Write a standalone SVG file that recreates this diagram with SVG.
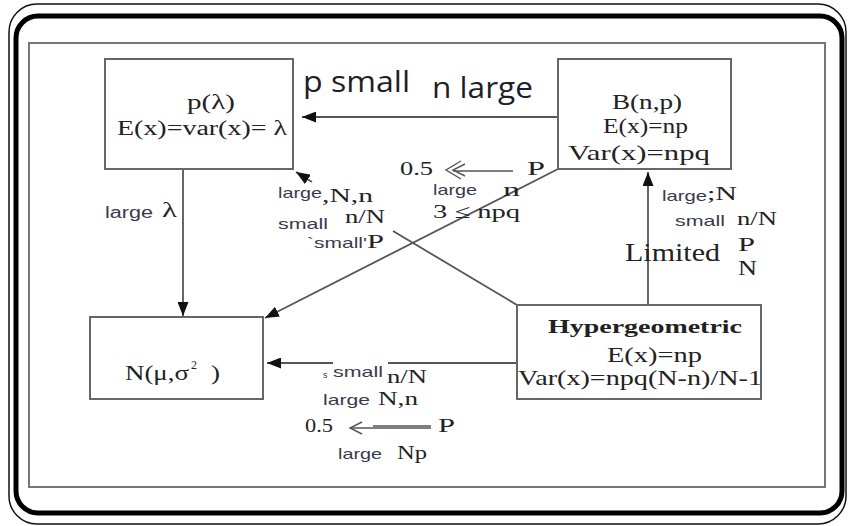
<svg xmlns="http://www.w3.org/2000/svg" width="848" height="526" viewBox="0 0 848 526">
<style>
.box{fill:#fff;stroke:#666;stroke-width:2}
.ln{fill:none;stroke:#555;stroke-width:1.8}
.thin{fill:none;stroke:#555;stroke-width:1.4}
.sr{font-family:"Liberation Serif","Times New Roman",serif;fill:#222}
.sn{font-family:"Liberation Sans",Arial,sans-serif;fill:#3a3a4c}
.big{font-family:"Open Sans","Liberation Sans",sans-serif;fill:#1e1e28}
</style>
<defs>
<marker id="ah" markerUnits="userSpaceOnUse" markerWidth="15" markerHeight="11" refX="14" refY="5.5" orient="auto">
<path d="M0,0 L14,5.5 L0,11 z" fill="#111"/>
</marker>
</defs>
<rect width="848" height="526" fill="#fff"/>
<g id="frame">
<rect x="9" y="4" width="837" height="520" rx="28" fill="none" stroke="#111" stroke-width="1.5"/>
<rect x="16" y="16" width="826" height="497" rx="22" fill="none" stroke="#000" stroke-width="5"/>
<rect x="29" y="43" width="796" height="444" fill="none" stroke="#777" stroke-width="2"/>
</g>
<g id="connectors">
<line class="ln" x1="558" y1="117" x2="302" y2="117" marker-end="url(#ah)"/>
<line class="ln" x1="183" y1="169" x2="183" y2="316" marker-end="url(#ah)"/>
<line class="ln" x1="558" y1="169" x2="265" y2="318" marker-end="url(#ah)"/>
<path class="ln" d="M517,305 L393,231 M312,182 L296,172" marker-end="url(#ah)"/>
<path class="ln" d="M517,363 L388,363 M333,363 L267,363" marker-end="url(#ah)"/>
<line class="ln" x1="648" y1="305" x2="648" y2="172" marker-end="url(#ah)"/>
</g>
<g id="node-poisson">
<rect class="box" x="105" y="59" width="188" height="110"/>
<text class="sr" x="187" y="109" font-size="22" textLength="48" lengthAdjust="spacingAndGlyphs">p(λ)</text>
<text class="sr" x="117" y="135" font-size="20" textLength="170" lengthAdjust="spacingAndGlyphs">E(x)=var(x)= λ</text>
</g>
<g id="node-binomial">
<rect class="box" x="558" y="59" width="173" height="110"/>
<text class="sr" x="612" y="109" font-size="21" textLength="70" lengthAdjust="spacingAndGlyphs">B(n,p)</text>
<text class="sr" x="603" y="133" font-size="21" textLength="85" lengthAdjust="spacingAndGlyphs">E(x)=np</text>
<text class="sr" x="568" y="160" font-size="21" textLength="142" lengthAdjust="spacingAndGlyphs">Var(x)=npq</text>
</g>
<g id="node-hypergeometric">
<rect class="box" x="517" y="305" width="244" height="94"/>
<text class="sr" x="548" y="333" font-size="18" font-weight="bold" fill="#1a1208" textLength="194" lengthAdjust="spacingAndGlyphs">Hypergeometric</text>
<text class="sr" x="607" y="362" font-size="21" textLength="95" lengthAdjust="spacingAndGlyphs">E(x)=np</text>
<text class="sr" x="518" y="385" font-size="21" textLength="244" lengthAdjust="spacingAndGlyphs">Var(x)=npq(N-n)/N-1</text>
</g>
<g id="node-normal">
<rect class="box" x="90" y="317" width="173" height="82"/>
<text class="sr" x="125" y="380" font-size="21" textLength="64" lengthAdjust="spacingAndGlyphs">N(μ,σ</text>
<text class="sr" x="191" y="369" font-size="12">2</text>
<text class="sr" x="211" y="380" font-size="21" textLength="9" lengthAdjust="spacingAndGlyphs">)</text>
</g>
<g id="labels">
<text class="big" x="303" y="92" font-size="29" textLength="107" lengthAdjust="spacingAndGlyphs">p small</text>
<text class="big" x="432" y="98" font-size="29" textLength="101" lengthAdjust="spacingAndGlyphs">n large</text>

<text class="sn" x="105" y="218" font-size="16" textLength="48" lengthAdjust="spacingAndGlyphs">large</text>
<text class="sr" x="162" y="217" font-size="20" textLength="15" lengthAdjust="spacingAndGlyphs">λ</text>

<text class="sn" x="278" y="198" font-size="15" textLength="44" lengthAdjust="spacingAndGlyphs">large</text>
<text class="sr" x="322" y="202" font-size="19" textLength="51" lengthAdjust="spacingAndGlyphs">,N,n</text>
<text class="sn" x="278" y="229" font-size="15" textLength="50" lengthAdjust="spacingAndGlyphs">small</text>
<text class="sr" x="345" y="223" font-size="19" textLength="40" lengthAdjust="spacingAndGlyphs">n/N</text>
<text class="sn" x="307" y="248" font-size="15" textLength="60" lengthAdjust="spacingAndGlyphs">`small'</text>
<text class="sr" x="367" y="248" font-size="19" textLength="17" lengthAdjust="spacingAndGlyphs">P</text>

<text class="sr" x="400" y="175" font-size="19" textLength="33" lengthAdjust="spacingAndGlyphs">0.5</text>
<polyline class="thin" points="461,161 446,170 461,179"/>
<polyline class="thin" points="465,164 453,170 465,176"/>
<line class="thin" x1="453" y1="171" x2="513" y2="171"/>
<text class="sr" x="527" y="175" font-size="19" textLength="18" lengthAdjust="spacingAndGlyphs">P</text>
<text class="sn" x="433" y="195" font-size="15" textLength="44" lengthAdjust="spacingAndGlyphs">large</text>
<text class="sr" x="503" y="196" font-size="19" textLength="17" lengthAdjust="spacingAndGlyphs">n</text>
<text class="sr" x="433" y="218" font-size="19" textLength="87" lengthAdjust="spacingAndGlyphs">3 ≤ npq</text>

<text class="sn" x="662" y="201" font-size="15" textLength="45" lengthAdjust="spacingAndGlyphs">large</text>
<text class="sr" x="707" y="200" font-size="19" textLength="30" lengthAdjust="spacingAndGlyphs">;N</text>
<text class="sn" x="675" y="226" font-size="15" textLength="50" lengthAdjust="spacingAndGlyphs">small</text>
<text class="sr" x="737" y="225" font-size="19" textLength="40" lengthAdjust="spacingAndGlyphs">n/N</text>
<text class="sr" x="625" y="261" font-size="26" textLength="95" lengthAdjust="spacingAndGlyphs">Limited</text>
<text class="sr" x="738" y="251" font-size="19" textLength="17" lengthAdjust="spacingAndGlyphs">P</text>
<text class="sr" x="738" y="275" font-size="20" textLength="19" lengthAdjust="spacingAndGlyphs">N</text>

<text class="sn" x="323" y="378" font-size="9">s</text>
<text class="sn" x="333" y="377" font-size="15" textLength="50" lengthAdjust="spacingAndGlyphs">small</text>
<text class="sr" x="387" y="383" font-size="19" textLength="40" lengthAdjust="spacingAndGlyphs">n/N</text>
<text class="sn" x="323" y="405" font-size="15" textLength="47" lengthAdjust="spacingAndGlyphs">large</text>
<text class="sr" x="378" y="405" font-size="19" textLength="40" lengthAdjust="spacingAndGlyphs">N,n</text>
<text class="sr" x="305" y="432" font-size="18" textLength="28" lengthAdjust="spacingAndGlyphs">0.5</text>
<polyline class="thin" points="362,422 350,428 362,434"/>
<line class="thin" x1="350" y1="428" x2="431" y2="428"/>
<line class="thin" x1="373" y1="426" x2="431" y2="426"/>
<text class="sr" x="438" y="432" font-size="19" textLength="17" lengthAdjust="spacingAndGlyphs">P</text>
<text class="sn" x="338" y="459" font-size="15" textLength="44" lengthAdjust="spacingAndGlyphs">large</text>
<text class="sr" x="397" y="459" font-size="19" textLength="30" lengthAdjust="spacingAndGlyphs">Np</text>
</g>
</svg>
